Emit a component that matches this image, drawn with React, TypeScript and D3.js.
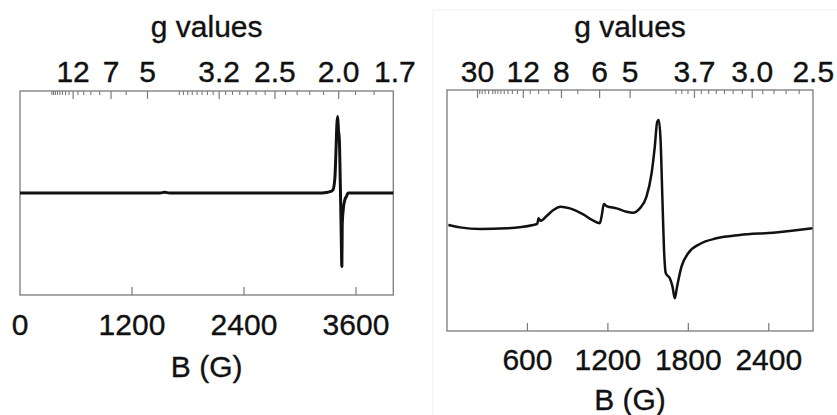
import React from 'react';
import * as d3 from 'd3';

// g * B product (G) for the spectrometer frequency
const G_CONST = 6830;

// Left panel spectrum (B in gauss, intensity arbitrary)
const leftB = [0, 1500, 1550, 1600, 3200, 3280, 3330, 3354, 3375, 3386, 3396, 3404, 3412, 3422, 3432, 3440, 3449, 3453, 3465, 3480, 3500, 3515, 4000];
const leftI = [0, 0, 0.008, 0, 0, 0.005, 0.015, 0.03, 0.16, 0.42, 0.68, 0.75, 0.62, 0.52, 0.1, -0.3, -0.72, -0.3, -0.15, -0.07, -0.03, 0, 0];

// Right panel spectrum
const rightB = [10, 97, 246, 445, 643, 673, 683, 698, 743, 793, 847, 917, 1016, 1091, 1140, 1155, 1170, 1190, 1265, 1339, 1389, 1438, 1488, 1526, 1550, 1568, 1580, 1593, 1607, 1620, 1632, 1662, 1682, 1699, 1716, 1749, 1799, 1886, 2010, 2184, 2432, 2726];
const rightI = [-0.12, -0.14, -0.154, -0.148, -0.12, -0.112, -0.065, -0.085, -0.046, 0.004, 0.032, 0.018, -0.032, -0.085, -0.106, -0.037, 0.054, 0.037, 0.018, -0.01, -0.018, 0.018, 0.115, 0.309, 0.53, 0.737, 0.751, 0.585, 0.087, -0.355, -0.521, -0.563, -0.632, -0.729, -0.632, -0.466, -0.355, -0.278, -0.231, -0.203, -0.184, -0.148];

const leftMajorG = [12, 7, 5, 3.2, 2.5, 2.0, 1.7];
const leftMajorLabels = ['12', '7', '5', '3.2', '2.5', '2.0', '1.7'];
const leftMinorG = [20, 19, 18, 17, 16, 15, 14, 13, 11, 10, 9, 8, 6, 4.0, 3.9, 3.8, 3.7, 3.6, 3.5, 3.4, 3.3, 3.1, 3.0, 2.9, 2.8, 2.7, 2.6, 2.4, 2.3, 2.2, 2.1, 1.9, 1.8];

const rightMajorG = [30, 12, 8, 6, 5, 3.7, 3.0, 2.5];
const rightMajorLabels = ['30', '12', '8', '6', '5', '3.7', '3.0', '2.5'];
const rightMinorG = [28, 26, 24, 22, 20, 19, 18, 17, 16, 15, 14, 13, 11, 10, 9, 7, 4.0, 3.9, 3.8, 3.6, 3.5, 3.4, 3.3, 3.2, 3.1, 2.9, 2.8, 2.7, 2.6];

const leftBTicks = [0, 1200, 2400, 3600];
const rightBTicks = [600, 1200, 1800, 2400];

const FONT = '"Liberation Sans", Arial, sans-serif';
const FS = 30;

type PanelProps = {
  x0: number; x1: number; y0: number; y1: number;
  bMax: number;
  bs: number[]; is: number[];
  majorG: number[]; majorLabels: string[]; minorG: number[];
  bTicks: number[];
  tickLabelY: number; xTitleY: number;
  lineW: number;
};

const txt = { fontFamily: FONT, fontSize: FS, fill: '#111', stroke: '#111', strokeWidth: 0.35, textAnchor: 'middle' as const };

function Panel(p: PanelProps) {
  const x = d3.scaleLinear().domain([0, p.bMax]).range([p.x0, p.x1]);
  const y = d3.scaleLinear().domain([-1, 1]).range([p.y1, p.y0]);
  const pts: [number, number][] = p.bs.map((b, i) => [b, p.is[i]]);
  const line = d3.line<[number, number]>().x(d => x(d[0])).y(d => y(d[1])).curve(d3.curveMonotoneX);
  const cx = (p.x0 + p.x1) / 2;
  const inDom = (b: number) => b >= 0 && b <= p.bMax + 1;
  const frame = '#7a7a7a';
  return (
    <g>
      <rect x={p.x0} y={p.y0} width={p.x1 - p.x0} height={p.y1 - p.y0} fill="none" stroke={frame} strokeWidth={1.3} />
      {p.minorG.map((g, i) => {
        const b = G_CONST / g;
        if (!inDom(b)) return null;
        return <line key={'mi' + i} x1={x(b)} x2={x(b)} y1={p.y0} y2={p.y0 + 4} stroke={frame} strokeWidth={1.1} />;
      })}
      {p.majorG.map((g, i) => {
        const b = G_CONST / g;
        return (
          <g key={'ma' + i}>
            {inDom(b) && <line x1={x(b)} x2={x(b)} y1={p.y0} y2={p.y0 + 8} stroke={frame} strokeWidth={1.2} />}
            <text x={x(b)} y={82} {...txt}>{p.majorLabels[i]}</text>
          </g>
        );
      })}
      <text x={cx} y={37} {...txt}>g values</text>
      {p.bTicks.map((b, i) => (
        <g key={'bt' + i}>
          {b > 0 && <line x1={x(b)} x2={x(b)} y1={p.y1} y2={p.y1 - 8} stroke={frame} strokeWidth={1.2} />}
          <text x={x(b)} y={p.tickLabelY} {...txt}>{b}</text>
        </g>
      ))}
      <text x={cx} y={p.xTitleY} {...txt}>B (G)</text>
      <path d={line(pts) || ''} fill="none" stroke="#111" strokeWidth={p.lineW} strokeLinejoin="round" />
    </g>
  );
}

export default function App() {
  return (
    <svg width={837} height={415} style={{ position: 'absolute', left: 0, top: 0, background: '#fff' }}>
      <rect x={0} y={0} width={837} height={415} fill="#fff" />
      <line x1={433} x2={837} y1={10} y2={10} stroke="#f0f0f0" strokeWidth={1} />
      <line x1={433} x2={433} y1={10} y2={415} stroke="#f0f0f0" strokeWidth={1} />
      <Panel x0={20} x1={393.3} y0={91} y1={295} bMax={4000} bs={leftB} is={leftI}
        majorG={leftMajorG} majorLabels={leftMajorLabels} minorG={leftMinorG}
        bTicks={leftBTicks} tickLabelY={335} xTitleY={377} lineW={3} />
      <Panel x0={447} x1={813} y0={90} y1={331} bMax={2730} bs={rightB} is={rightI}
        majorG={rightMajorG} majorLabels={rightMajorLabels} minorG={rightMinorG}
        bTicks={rightBTicks} tickLabelY={370} xTitleY={410} lineW={2.5} />
    </svg>
  );
}
